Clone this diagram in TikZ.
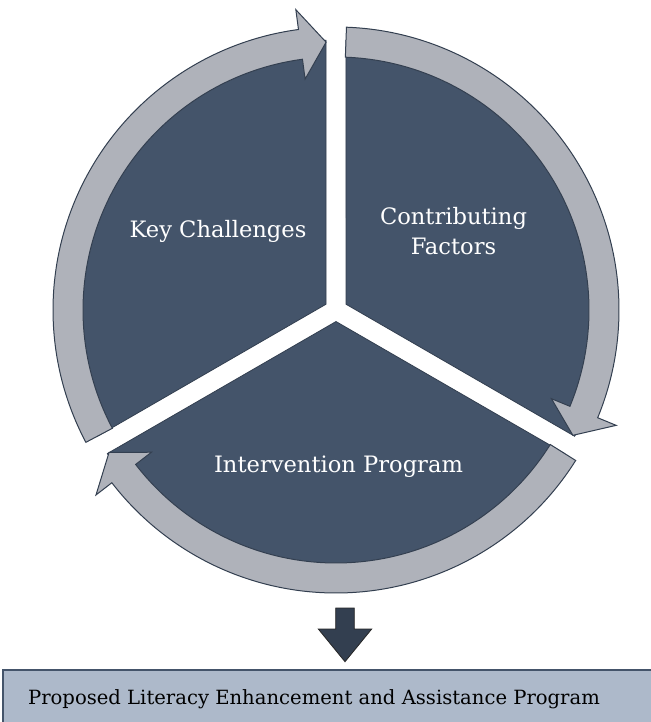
\documentclass[tikz,border=0pt]{standalone}
\usepackage{fontspec}
\setmainfont{DejaVu Serif}
\usetikzlibrary{calc}
\definecolor{segfill}{HTML}{44546A}
\definecolor{segline}{HTML}{333F50}
\definecolor{arrfill}{HTML}{AFB2BA}
\definecolor{boxfill}{HTML}{ADB9CA}
\tikzset{
  seg/.style={fill=segfill, draw=segline, line width=0.8pt, line join=miter},
  ring/.style={fill=arrfill, draw=segline, line width=1pt, line join=miter},
  lbl/.style={text=white, font=\fontsize{22.6}{27}\selectfont, inner sep=0pt, anchor=base},
  boxtxt/.style={text=black, font=\fontsize{19.6}{23}\selectfont, inner sep=0pt, anchor=base},
  downarr/.style={fill=segline, draw=black!85, line width=0.8pt, line join=miter},
  progbox/.style={fill=boxfill, draw=segfill, line width=1.2pt},
}
\begin{document}
\begin{tikzpicture}[x=1pt,y=1pt]
\useasboundingbox (0,0) rectangle (650,-722);
\coordinate (C) at (336,-310);
% dark segments
\foreach \b in {150,30,270}{
  \pgfmathsetmacro{\s}{\b-60+2.12}
  \pgfmathsetmacro{\e}{\b+60-2.12}
  \draw[seg] ($(C)+(\b:11.547pt)$) -- ($(C)+(\s:270pt)$)
    arc[start angle=\s, end angle=\e, radius=270pt] -- cycle;
}
% circular arrows
\foreach \b in {150,30,270}{
  \pgfmathsetmacro{\t}{\b+60-2.12}
  \pgfmathsetmacro{\p}{\b-60+2.12}
  \pgfmathsetmacro{\h}{\p+5.5}
  \draw[ring] ($(C)+(\t:283pt)$) arc[start angle=\t, end angle=\h, radius=283pt]
    -- ($(C)+(\h:303pt)$) -- ($(C)+(\p:268pt)$) -- ($(C)+(\h:233pt)$)
    -- ($(C)+(\h:253pt)$) arc[start angle=\h, end angle=\t, radius=253pt] -- cycle;
}
\node[lbl] (kc) at (218,-237.5) {Key Challenges};
\node[lbl] (cf1) at (453.5,-224.5) {Contributing};
\node[lbl] (cf2) at (453.5,-254) {Factors};
\node[lbl] (ip) at (338.5,-472.7) {Intervention Program};
% down arrow
\draw[downarr] (335.7,-608) -- (354.3,-608) -- (354.3,-629) -- (371.7,-629)
  -- (345,-661.7) -- (318.3,-629) -- (335.7,-629) -- cycle;
% program box
\draw[progbox] (3,-670) rectangle (660,-730);
\node[boxtxt] (prog) at (314,-704) {Proposed Literacy Enhancement and Assistance Program};
\end{tikzpicture}
\end{document}
